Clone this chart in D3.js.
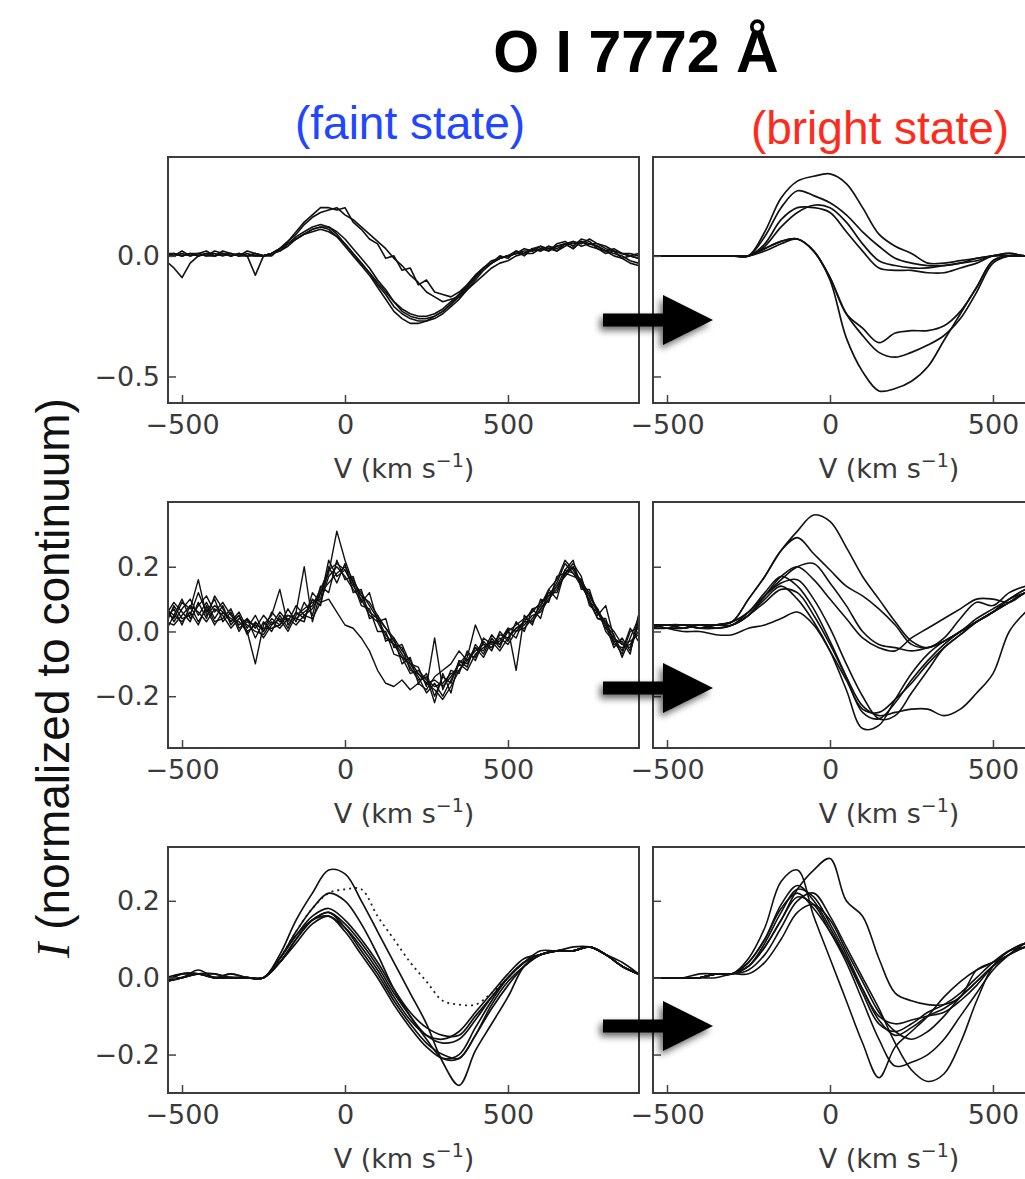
<!DOCTYPE html>
<html><head><meta charset="utf-8">
<script src="https://cdn.jsdelivr.net/npm/d3@7"></script>
<style>body{margin:0;background:#fff}svg{display:block}</style>
</head><body><svg id="c" width="1025" height="1179"></svg>
<script>
// ---------------- DATA ----------------
const titleText = "O I 7772 Å";
const stateLabels = ["(faint state)", "(bright state)"];
const xTickValues = [-500, 0, 500];
const yTickValues = [[-0.5, 0.0], [-0.2, 0.0, 0.2], [-0.2, 0.0, 0.2]];

// velocity grids (km/s)
const vel25 = [-550,-525,-500,-475,-450,-425,-400,-375,-350,-325,
  -300,-275,-250,-225,-200,-175,-150,-125,-100,-75,
  -50,-25,0,25,50,75,100,125,150,175,
  200,225,250,275,300,325,350,375,400,425,
  450,475,500,525,550,575,600,625,650,675,
  700,725,750,775,800,825,850,875,900];
const vel50 = [-550,-500,-450,-400,-350,-300,-250,-200,-150,-100,
  -50,0,50,100,150,200,250,300,350,400,
  450,500,550,600,650,700,750,800,850,900];
const velRight = [-550,-500,-450,-400,-350,-300,-250,-200,-150,-100,
  -50,0,50,100,150,200,250,300,350,400,
  450,500,550,600,650];

// Row 1, faint state
const faint1A = [0.00,0.01,0.00,0.01,0.00,0.01,0.00,0.01,0.00,0.01, 0.00,0.00,0.00,0.01,0.02,0.04,0.07,0.09,0.11,0.12, 0.11,0.08,0.04,0.00,-0.04,-0.08,-0.13,-0.18,-0.23,-0.26, -0.28,-0.28,-0.27,-0.25,-0.23,-0.20,-0.16,-0.13,-0.09,-0.05, -0.03,-0.01,0.00,0.01,0.02,0.02,0.03,0.03,0.04,0.05, 0.05,0.06,0.05,0.05,0.03,0.02,0.01,0.01,0.00];
const faint1B = [0.01,0.00,0.02,0.00,0.01,0.02,0.00,0.02,0.01,0.00, 0.02,0.01,0.00,0.00,0.03,0.05,0.08,0.10,0.12,0.13, 0.12,0.09,0.05,0.01,-0.03,-0.07,-0.12,-0.16,-0.21,-0.24, -0.26,-0.27,-0.27,-0.26,-0.24,-0.21,-0.18,-0.14,-0.10,-0.06, -0.03,-0.01,0.00,0.01,0.01,0.03,0.02,0.04,0.03,0.05, 0.06,0.05,0.07,0.05,0.04,0.02,0.01,0.00,-0.01];
const faint1C = [-0.02,-0.05,-0.09,-0.03,0.00,0.01,0.00,0.01,0.00,0.01, 0.00,0.01,0.00,0.01,0.03,0.05,0.07,0.09,0.11,0.12, 0.12,0.10,0.07,0.03,-0.01,-0.05,-0.10,-0.14,-0.19,-0.23, -0.25,-0.26,-0.26,-0.25,-0.23,-0.20,-0.17,-0.13,-0.09,-0.05, -0.03,-0.01,0.00,0.02,0.01,0.03,0.04,0.02,0.05,0.06, 0.04,0.07,0.06,0.03,0.02,0.00,-0.01,-0.03,-0.04];
const faint1D = [0.01,0.01,0.00,0.01,0.01,0.00,0.02,0.01,0.00,0.01, 0.00,-0.08,0.00,0.01,0.02,0.05,0.07,0.09,0.10,0.11, 0.10,0.08,0.05,0.01,-0.03,-0.07,-0.11,-0.15,-0.19,-0.22, -0.24,-0.25,-0.25,-0.24,-0.22,-0.19,-0.16,-0.12,-0.08,-0.05, -0.02,-0.01,0.00,0.01,0.03,0.02,0.04,0.03,0.02,0.04, 0.06,0.04,0.05,0.04,0.02,0.03,0.01,0.00,0.01];
const faint1E = [0.00,0.01,0.00,0.01,0.00,0.01,0.01,0.00,0.01,0.00, 0.01,0.00,0.00,0.01,0.03,0.06,0.10,0.14,0.17,0.20, 0.20,0.19,0.20,0.14,0.11,0.07,0.05,-0.01,0.00,-0.06, -0.05,-0.12,-0.10,-0.15,-0.16,-0.17,-0.15,-0.12,-0.08,-0.05, -0.03,0.00,-0.01,0.02,0.00,0.03,0.02,0.04,0.02,0.05, 0.03,0.06,0.04,0.03,0.01,0.02,-0.01,0.00,-0.01];
const faint1F = [0.00,0.00,0.01,0.00,0.01,0.00,0.00,0.01,0.01,0.00, 0.00,0.01,0.00,0.01,0.03,0.06,0.09,0.13,0.16,0.18, 0.19,0.20,0.17,0.15,0.12,0.09,0.06,0.03,-0.01,-0.04, -0.08,-0.11,-0.15,-0.17,-0.19,-0.18,-0.17,-0.14,-0.11,-0.08, -0.05,-0.03,-0.02,0.00,0.01,0.01,0.03,0.02,0.04,0.05, 0.03,0.06,0.05,0.04,0.02,0.01,0.00,-0.02,-0.03];

// Row 1, bright state
const bright1A = [0,0,0,0,0,0,0.00,0.10,0.24,0.31, 0.33,0.34,0.30,0.20,0.09,0.04,0.01,-0.03,-0.03,-0.02, -0.01,0.00,0.01,0.00,0.00];
const bright1B = [0,0,0,0,0,0,0.00,0.08,0.20,0.27, 0.25,0.22,0.17,0.10,0.04,-0.01,-0.03,-0.04,-0.04,-0.03, -0.01,0.00,0.01,0.00,0.00];
const bright1C = [0,0,0,0,0,0,0.00,0.05,0.15,0.20, 0.20,0.18,0.10,0.02,-0.05,-0.06,-0.06,-0.07,-0.07,-0.05, -0.03,0.00,0.00,0.00,0.00];
const bright1D = [0,0,0,0,0,0,0.00,0.04,0.12,0.18, 0.21,0.20,0.14,0.05,-0.02,-0.04,-0.05,-0.05,-0.04,-0.03, -0.02,0.00,0.00,0.00,0.00];
const bright1E = [0,0,0,0,0,0,0.00,0.03,0.06,0.07, 0.02,-0.10,-0.34,-0.48,-0.56,-0.55,-0.52,-0.46,-0.35,-0.24, -0.13,-0.02,0.00,0.00,0.00];
const bright1F = [0,0,0,0,0,0,0.00,0.03,0.06,0.07, 0.02,-0.09,-0.24,-0.30,-0.36,-0.32,-0.31,-0.31,-0.29,-0.23, -0.13,-0.02,0.00,0.00,0.00];
const bright1G = [0,0,0,0,0,0,0.00,0.02,0.05,0.07, 0.02,-0.09,-0.24,-0.33,-0.40,-0.42,-0.40,-0.37,-0.33,-0.26, -0.15,-0.03,0.00,0.00,0.00];

// Row 2, faint state
const faint2A = [0.08,0.03,0.07,0.10,0.05,0.09,0.04,0.08,0.02,0.05, -0.01,0.03,0.00,0.04,0.02,0.07,0.03,0.09,0.05,0.14, 0.12,0.22,0.16,0.17,0.09,0.12,0.03,0.04,-0.05,-0.04, -0.10,-0.11,-0.17,-0.02,-0.18,-0.12,-0.13,-0.06,-0.09,-0.03, -0.06,0.00,-0.03,0.03,0.00,0.07,0.04,0.13,0.10,0.19, 0.22,0.13,0.13,0.05,0.08,-0.02,-0.06,0.01,-0.03];
const faint2B = [0.02,0.08,0.04,0.05,0.12,0.06,0.10,0.03,0.06,0.00, 0.04,-0.02,0.03,0.00,0.05,0.01,0.06,0.04,0.10,0.08, 0.20,0.15,0.21,0.12,0.13,0.04,0.05,-0.03,-0.02,-0.10, -0.08,-0.16,-0.13,-0.20,-0.14,-0.16,-0.09,-0.11,-0.04,-0.07, -0.02,-0.05,0.01,-0.12,0.05,0.02,0.10,0.09,0.17,0.18, 0.21,0.17,0.08,0.06,0.02,-0.05,-0.02,-0.06,0.02];
const faint2C = [0.06,0.04,0.09,0.07,0.16,0.05,0.08,0.06,0.03,0.05, 0.00,-0.10,0.02,0.05,0.13,0.02,0.06,0.20,0.03,0.12, 0.18,0.31,0.22,0.15,0.12,0.08,0.04,0.01,-0.03,-0.07, -0.11,-0.15,-0.14,-0.22,-0.13,-0.19,-0.09,-0.10,-0.05,-0.08, -0.03,-0.04,0.00,0.02,0.04,0.06,0.09,0.11,0.15,0.21, 0.18,0.16,0.09,0.04,0.03,-0.03,-0.07,0.00,0.01];
const faint2D = [0.04,0.07,0.02,0.08,0.06,0.03,0.07,0.05,0.01,0.04, 0.02,0.00,-0.01,0.03,0.01,0.04,0.02,0.05,0.04,0.09, 0.10,0.06,0.02,0.01,-0.02,-0.06,-0.12,-0.16,-0.17,-0.15, -0.18,-0.16,-0.18,-0.14,-0.12,-0.10,-0.06,-0.09,-0.05,-0.06, -0.01,-0.04,0.00,-0.02,0.04,0.03,0.07,0.11,0.14,0.17, 0.20,0.14,0.11,0.06,0.01,-0.02,-0.04,-0.05,0.03];
const faint2E = [0.07,0.05,0.10,0.04,0.08,0.11,0.06,0.09,0.05,0.02, 0.04,0.01,0.05,0.02,0.06,0.03,0.08,0.05,0.07,0.12, 0.15,0.18,0.20,0.16,0.11,0.09,0.05,0.01,-0.02,-0.06, -0.09,-0.13,-0.16,-0.18,-0.21,-0.17,-0.12,-0.08,0.02,-0.04, -0.05,-0.01,-0.02,0.01,0.02,0.05,0.06,0.10,0.13,0.18, 0.20,0.15,0.12,0.06,0.03,0.00,-0.04,-0.03,-0.01];
const faint2F = [0.00,0.05,0.03,0.06,0.02,0.08,0.03,0.04,0.07,0.01, 0.03,0.02,-0.02,0.02,0.04,0.00,0.05,0.07,0.09,0.10, 0.22,0.17,0.19,0.15,0.08,0.07,0.00,0.00,-0.07,-0.08, -0.13,-0.12,-0.15,-0.17,-0.16,-0.13,-0.12,-0.09,-0.06,-0.04, -0.05,-0.02,-0.04,0.00,0.01,0.04,0.08,0.12,0.12,0.18, 0.17,0.16,0.11,0.07,0.02,-0.01,-0.08,-0.02,0.04];
const faint2G = [0.05,0.09,0.06,0.03,0.09,0.04,0.11,0.07,0.03,0.06, 0.01,0.05,0.00,0.06,0.03,0.05,0.04,0.03,0.12,0.09, 0.17,0.20,0.17,0.13,0.10,0.05,0.03,-0.02,-0.04,-0.08, -0.10,-0.14,-0.19,-0.16,-0.20,-0.15,-0.10,-0.12,-0.07,-0.05, -0.03,-0.06,-0.02,0.01,0.03,0.03,0.07,0.10,0.14,0.19, 0.18,0.14,0.10,0.04,0.04,-0.04,-0.05,-0.04,0.00];
const faint2H = [0.03,0.02,0.05,0.08,0.03,0.07,0.02,0.06,0.04,0.03, 0.00,0.02,0.01,0.01,0.02,0.05,0.04,0.06,0.08,0.13, 0.19,0.21,0.19,0.14,0.11,0.06,0.04,-0.01,-0.04,-0.05, -0.12,-0.13,-0.16,-0.15,-0.17,-0.14,-0.10,-0.07,-0.08,-0.02, -0.04,-0.03,0.01,0.00,0.03,0.07,0.08,0.13,0.16,0.22, 0.19,0.15,0.09,0.07,0.00,-0.03,-0.03,-0.07,0.05];

// Row 2, bright state
const bright2A = [0.02,0.02,0.02,0.02,0.02,0.03,0.10,0.17,0.25,0.31, 0.36,0.34,0.26,0.17,0.10,0.03,-0.03,-0.05,-0.02,0.04, 0.09,0.08,0.12,0.14,0.15];
const bright2B = [0.02,0.02,0.02,0.01,0.02,0.03,0.10,0.17,0.25,0.29, 0.24,0.19,0.14,0.11,0.07,0.02,-0.04,-0.05,-0.03,0.00, 0.03,0.06,0.10,0.13,0.14];
const bright2C = [0.01,0.02,0.01,0.02,0.01,0.02,0.06,0.11,0.16,0.20, 0.21,0.15,0.08,0.00,-0.04,-0.05,-0.06,-0.05,-0.03,0.00, 0.03,0.06,0.09,0.12,0.14];
const bright2D = [0.01,0.01,0.02,0.01,0.01,0.02,0.05,0.10,0.14,0.10, 0.03,-0.06,-0.18,-0.30,-0.29,-0.21,-0.13,-0.07,-0.03,0.00, 0.04,0.07,0.10,0.13,0.14];
const bright2E = [0.02,0.02,0.01,0.02,0.02,0.03,0.06,0.12,0.17,0.14, 0.07,-0.03,-0.14,-0.25,-0.27,-0.22,-0.15,-0.09,-0.04,0.00, 0.03,0.06,0.10,0.12,0.14];
const bright2F = [0.01,0.02,0.02,0.01,0.02,0.03,0.06,0.11,0.15,0.16, 0.10,0.01,-0.10,-0.20,-0.27,-0.26,-0.19,-0.12,-0.05,-0.01, 0.03,0.06,0.09,0.12,0.13];
const bright2G = [0.01,0.01,0.01,0.02,0.01,0.02,0.05,0.09,0.13,0.12, 0.05,-0.04,-0.14,-0.23,-0.26,-0.25,-0.24,-0.24,-0.26,-0.24, -0.19,-0.13,0.00,0.06,0.10];
const bright2H = [0.02,0.01,0.00,0.00,-0.01,-0.01,0.01,0.02,0.04,0.06, 0.02,-0.06,-0.15,-0.24,-0.25,-0.21,-0.16,-0.10,-0.05,-0.01, 0.03,0.06,0.09,0.12,0.13];
const bright2I = [0.02,0.02,0.02,0.02,0.02,0.02,0.05,0.11,0.17,0.20, 0.16,0.10,0.04,-0.02,-0.05,-0.06,-0.02,0.01,0.04,0.07, 0.10,0.10,0.09,0.12,0.14];

// Row 3, faint state
const faint3A = [-0.01,0.00,0.01,0.00,0.00,0.00,0.00,0.06,0.15,0.22, 0.28,0.27,0.20,0.12,0.04,-0.04,-0.12,-0.22,-0.28,-0.19, -0.12,-0.05,0.03,0.06,0.07,0.07,0.08,0.06,0.03,0.01];
const faint3B = [-0.01,0.01,0.01,0.00,0.01,0.00,0.00,0.05,0.12,0.18, 0.22,0.20,0.14,0.06,-0.03,-0.10,-0.16,-0.21,-0.21,-0.15, -0.08,-0.02,0.03,0.06,0.07,0.07,0.08,0.06,0.03,0.01];
const faint3C = [-0.01,0.00,0.02,0.00,0.00,0.00,0.00,0.04,0.10,0.15, 0.17,0.14,0.09,0.03,-0.04,-0.10,-0.15,-0.17,-0.16,-0.11, -0.05,0.00,0.04,0.06,0.07,0.07,0.08,0.06,0.03,0.01];
const faint3D = [0.00,0.01,0.01,0.01,0.00,0.00,0.00,0.04,0.09,0.14, 0.16,0.12,0.06,0.00,-0.07,-0.13,-0.18,-0.21,-0.20,-0.13, -0.06,0.00,0.04,0.06,0.07,0.07,0.08,0.06,0.04,0.01];
const faint3E = [-0.01,0.00,0.01,0.00,0.01,0.00,0.00,0.05,0.11,0.16, 0.18,0.15,0.10,0.04,-0.03,-0.09,-0.13,-0.15,-0.15,-0.10, -0.05,0.00,0.04,0.07,0.07,0.08,0.08,0.06,0.03,0.01];
const faint3F = [0.00,0.00,0.01,0.01,0.00,0.00,0.00,0.04,0.10,0.15, 0.17,0.13,0.07,0.01,-0.06,-0.12,-0.17,-0.20,-0.21,-0.15, -0.07,-0.01,0.03,0.06,0.07,0.07,0.08,0.06,0.03,0.01];
const faint3G = [-0.01,0.01,0.01,0.00,0.00,0.00,0.00,0.05,0.11,0.15, 0.16,0.13,0.08,0.02,-0.05,-0.11,-0.15,-0.16,-0.14,-0.09, -0.04,0.01,0.05,0.06,0.07,0.07,0.08,0.06,0.03,0.01];
const faint3Dotted = [-0.01,0.00,0.01,0.00,0.00,0.00,0.00,0.05,0.12,0.18, 0.22,0.23,0.23,0.16,0.10,0.04,-0.01,-0.06,-0.07,-0.07, -0.04,0.00,0.04,0.06,0.07,0.07,0.08,0.06,0.03,0.01];

// Row 3, bright state
const bright3A = [0.00,0.00,0.00,0.00,0.01,0.01,0.05,0.13,0.25,0.28, 0.16,0.05,-0.06,-0.17,-0.26,-0.18,-0.14,-0.10,-0.05,-0.01, 0.02,0.04,0.07,0.09,0.09];
const bright3B = [0.00,0.00,0.00,0.00,0.01,0.01,0.03,0.08,0.15,0.23, 0.28,0.31,0.20,0.16,0.05,-0.04,-0.06,-0.07,-0.07,-0.05, 0.02,0.04,0.06,0.09,0.10];
const bright3C = [0.00,0.00,0.00,0.00,0.01,0.01,0.04,0.10,0.18,0.22, 0.18,0.12,0.05,-0.03,-0.10,-0.12,-0.11,-0.10,-0.09,-0.06, -0.02,0.03,0.06,0.08,0.09];
const bright3D = [0.00,0.00,0.00,0.01,0.01,0.01,0.03,0.09,0.17,0.23, 0.21,0.14,0.06,-0.03,-0.11,-0.15,-0.13,-0.10,-0.08,-0.05, -0.01,0.03,0.06,0.08,0.09];
const bright3E = [0.00,0.00,0.00,0.00,0.01,0.01,0.03,0.08,0.15,0.21, 0.19,0.12,0.04,-0.06,-0.16,-0.23,-0.22,-0.20,-0.16,-0.10, -0.04,0.02,0.06,0.09,0.10];
const bright3F = [0.00,0.00,0.00,0.00,0.01,0.01,0.02,0.06,0.13,0.20, 0.22,0.16,0.08,0.00,-0.08,-0.17,-0.24,-0.27,-0.25,-0.17, -0.06,0.03,0.07,0.09,0.10];
const bright3G = [0.00,0.00,0.00,0.00,0.01,0.01,0.04,0.10,0.19,0.24, 0.20,0.13,0.05,-0.04,-0.12,-0.14,-0.12,-0.09,-0.07,-0.04, 0.00,0.04,0.07,0.08,0.09];
const bright3H = [0.00,0.00,0.00,0.00,0.00,0.01,0.01,0.04,0.10,0.17, 0.19,0.15,0.07,-0.01,-0.09,-0.14,-0.16,-0.14,-0.10,-0.05, -0.01,0.03,0.06,0.08,0.09];

// ---------------- LAYOUT ----------------
const W = 1025, H = 1179;
const colX = [168, 653], panelW = 471;
const rowY = [157, 502, 847], panelH = 246;
const xDomain = [-543, 902];
const yDomains = [[-0.61, 0.41], [-0.36, 0.40], [-0.30, 0.34]];
const arrowCY = [320, 688, 1026];

const panels = [
  {row:0, col:0, vel:vel25, curves:[faint1A,faint1B,faint1C,faint1D,faint1E,faint1F], smooth:false, sw:1.6},
  {row:0, col:1, vel:velRight, curves:[bright1A,bright1B,bright1C,bright1D,bright1E,bright1F,bright1G], smooth:true, sw:1.7},
  {row:1, col:0, vel:vel25, curves:[faint2A,faint2B,faint2C,faint2D,faint2E,faint2F,faint2G,faint2H], smooth:false, sw:1.4},
  {row:1, col:1, vel:velRight, curves:[bright2A,bright2B,bright2C,bright2D,bright2E,bright2F,bright2G,bright2H,bright2I], smooth:true, sw:1.6},
  {row:2, col:0, vel:vel50, curves:[faint3A,faint3B,faint3C,faint3D,faint3E,faint3F,faint3G], dotted:faint3Dotted, smooth:true, sw:1.7},
  {row:2, col:1, vel:velRight, curves:[bright3A,bright3B,bright3C,bright3D,bright3E,bright3F,bright3G,bright3H], smooth:true, sw:1.6}
];

const svg = d3.select('#c');
svg.append('rect').attr('width', W).attr('height', H).attr('fill', '#fff');
const defs = svg.append('defs');
const flt = defs.append('filter').attr('id','shadow').attr('x','-40%').attr('y','-60%').attr('width','180%').attr('height','220%');
flt.append('feGaussianBlur').attr('in','SourceAlpha').attr('stdDeviation',3.5).attr('result','blur');
flt.append('feOffset').attr('in','blur').attr('dx',-3).attr('dy',4).attr('result','off');
flt.append('feComponentTransfer').attr('in','off').attr('result','soft')
  .append('feFuncA').attr('type','linear').attr('slope',0.6);
const fm = flt.append('feMerge');
fm.append('feMergeNode').attr('in','soft');
fm.append('feMergeNode').attr('in','SourceGraphic');

const tickFont = "'DejaVu Sans', sans-serif";
const fmtY = d3.format('.1f');
const fmtX = d3.format('d');

panels.forEach((p, i) => {
  const g = svg.append('g').attr('transform', `translate(${colX[p.col]},${rowY[p.row]})`);
  const x = d3.scaleLinear().domain(xDomain).range([0, panelW]);
  const y = d3.scaleLinear().domain(yDomains[p.row]).range([panelH, 0]);
  const cid = 'clip' + i;
  defs.append('clipPath').attr('id', cid).append('rect').attr('width', panelW).attr('height', panelH);
  const plot = g.append('g').attr('clip-path', `url(#${cid})`);
  const line = d3.line()
    .x(d => x(d[0])).y(d => y(d[1]))
    .curve(p.smooth ? d3.curveCatmullRom.alpha(0.5) : d3.curveLinear);
  const pairs = arr => p.vel.slice(0, Math.min(p.vel.length, arr.length)).map((v, k) => [v, arr[k]]);
  if (p.dotted) {
    plot.append('path').attr('d', line(pairs(p.dotted))).attr('fill','none')
      .attr('stroke','#222').attr('stroke-width',1.8).attr('stroke-dasharray','2,4');
  }
  p.curves.forEach(c => {
    plot.append('path').attr('d', line(pairs(c))).attr('fill','none')
      .attr('stroke','#111').attr('stroke-width',p.sw).attr('stroke-linejoin','round');
  });
  // axes (inward ticks)
  const xa = g.append('g').attr('transform', `translate(0,${panelH})`)
    .call(d3.axisBottom(x).tickValues(xTickValues).tickSizeInner(-8).tickSizeOuter(0).tickPadding(12).tickFormat(fmtX));
  const ya = g.append('g')
    .call(d3.axisLeft(y).tickValues(yTickValues[p.row]).tickSizeInner(-8).tickSizeOuter(0).tickPadding(8)
      .tickFormat(p.col === 0 ? fmtY : () => ''));
  [xa, ya].forEach(a => {
    a.select('.domain').remove();
    a.selectAll('line').attr('stroke','#444').attr('stroke-width',1.5);
    a.selectAll('text').attr('fill','#3a3a3a').style('font-family', tickFont).style('font-size','27px');
  });
  // frame
  g.append('rect').attr('width', panelW).attr('height', panelH).attr('fill','none')
    .attr('stroke','#3c3c3c').attr('stroke-width',2);
  // x label
  const xl = g.append('text').attr('x', 236).attr('y', panelH + 75).attr('text-anchor','middle')
    .attr('fill','#3a3a3a').style('font-family', tickFont).style('font-size','27px');
  xl.append('tspan').text('V (km s');
  xl.append('tspan').attr('dy', -11).style('font-size','19px').text('\u22121');
  xl.append('tspan').attr('dy', 11).text(')');
});

// arrows
arrowCY.forEach(c => {
  const path = d3.path();
  path.moveTo(603, c - 6.5); path.lineTo(663, c - 6.5); path.lineTo(663, c - 25);
  path.lineTo(713, c); path.lineTo(663, c + 25); path.lineTo(663, c + 6.5);
  path.lineTo(603, c + 6.5); path.closePath();
  svg.append('path').attr('d', path.toString()).attr('fill','#000').attr('filter','url(#shadow)');
});

// titles
svg.append('text').attr('x', 636).attr('y', 72).attr('text-anchor','middle')
  .style('font-family',"'Liberation Sans', Arial, sans-serif").style('font-weight','bold').style('font-size','59px')
  .attr('fill','#000').text(titleText);
svg.append('text').attr('x', 410).attr('y', 139).attr('text-anchor','middle')
  .style('font-family',"'Liberation Sans', Arial, sans-serif").style('font-size','46px')
  .attr('fill','#2146ff').text(stateLabels[0]);
svg.append('text').attr('x', 880).attr('y', 144).attr('text-anchor','middle')
  .style('font-family',"'Liberation Sans', Arial, sans-serif").style('font-size','46px')
  .attr('fill','#ff2a1a').text(stateLabels[1]);

// y label
const yl = svg.append('text').attr('transform','translate(69,678) rotate(-90)').attr('text-anchor','middle')
  .style('font-family',"'Liberation Sans', Arial, sans-serif").style('font-size','46px').attr('fill','#111');
yl.append('tspan').style('font-family',"'Liberation Serif', serif").style('font-style','italic').text('I');
yl.append('tspan').text(' (normalized to continuum)');
</script>
</body></html>
